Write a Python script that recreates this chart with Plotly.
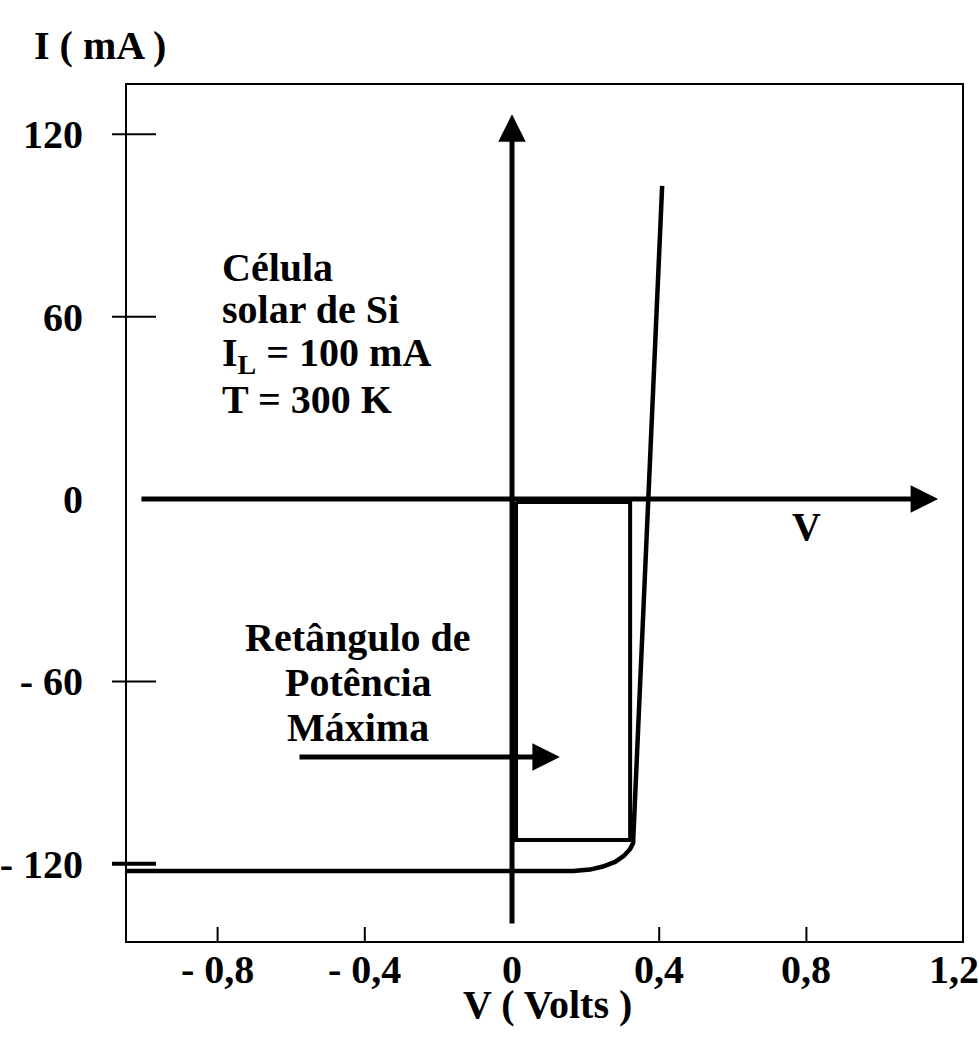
import plotly.graph_objects as go

# ---------------- data ----------------
x_tick_vals = [-0.8, -0.4, 0.0, 0.4, 0.8, 1.2]
x_tick_text = ["- 0,8", "- 0,4", "0", "0,4", "0,8", "1,2"]
x_tick_marks = [-0.8, -0.4, 0.4, 0.8]

y_tick_vals = [120, 60, 0, -60, -120]
y_tick_text = ["120", "60", "0", "- 60", "- 120"]
y_tick_marks = [120, 60, -60, -120]

# I-V characteristic of the illuminated cell (V in volts, I in mA)
V_curve = [-1.05, 0.166, 0.212, 0.247, 0.280, 0.304, 0.321, 0.329, 0.408]
I_curve = [-122.4, -122.4, -121.9, -120.9, -119.4, -117.4, -115.1, -113.2, 103.0]

# maximum power rectangle
rect_V = [0.011, 0.321, 0.321, 0.011, 0.011]
rect_I = [-1.0, -1.0, -112.2, -112.2, -1.0]

# axis arrows and pointer arrow (tail -> head)
v_axis_arrow = dict(tail=(-1.011, 0.0), head=(1.158, 0.0))
i_axis_arrow = dict(tail=(0.0, -140.1), head=(0.0, 126.6))
pointer_arrow = dict(tail=(-0.5815, -84.9), head=(0.130, -84.9))

x_range = [-1.0462, 1.2228]
y_range = [-145.4, 136.2]

FONT = "Liberation Serif"
FS = 40

fig = go.Figure()

fig.add_trace(go.Scatter(
    x=rect_V, y=rect_I, mode="lines",
    line=dict(color="black", width=4), hoverinfo="skip", showlegend=False))

fig.add_trace(go.Scatter(
    x=V_curve, y=I_curve, mode="lines",
    line=dict(color="black", width=4.5), hoverinfo="skip", showlegend=False))

# arrows
for arr in (v_axis_arrow, i_axis_arrow, pointer_arrow):
    fig.add_annotation(
        x=arr["head"][0], y=arr["head"][1], ax=arr["tail"][0], ay=arr["tail"][1],
        xref="x", yref="y", axref="x", ayref="y", text="", showarrow=True,
        arrowhead=2, arrowsize=1.1, arrowwidth=5, arrowcolor="black")

# tick marks
for yv in y_tick_marks:
    fig.add_shape(type="line", xref="paper", yref="y", x0=-15 / 835, x1=29 / 835,
                  y0=yv, y1=yv, line=dict(color="black", width=2 if yv != -120 else 4))
for xv in x_tick_marks:
    fig.add_shape(type="line", xref="x", yref="paper", x0=xv, x1=xv,
                  y0=0, y1=14 / 856, line=dict(color="black", width=2))

def txt(x, y, s, xanchor="center", yanchor="middle", xref="x", yref="y"):
    fig.add_annotation(x=x, y=y, xref=xref, yref=yref, text="<b>" + s + "</b>",
                       showarrow=False, xanchor=xanchor, yanchor=yanchor,
                       font=dict(family=FONT, size=FS, color="black"))

# x tick labels (placed on the x scale, just under the frame)
for xv, xt in zip(x_tick_vals, x_tick_text):
    txt(xv, (941 - 970) / 856, xt, yref="paper")

txt(-0.7935, 76.0, "Célula", xanchor="left")
txt(-0.7935, 62.2, "solar de Si", xanchor="left")
txt(-0.7935, 47.4, "I<sub>L</sub> = 100 mA", xanchor="left")
txt(-0.7935, 32.6, "T = 300 K", xanchor="left")
txt(-0.4185, -45.7, "Retângulo de")
txt(-0.4185, -60.5, "Potência")
txt(-0.4185, -75.0, "Máxima")
txt(0.799, -9.2, "V")
# outside the plotting area -> paper coordinates
txt((100 - 127) / 835, (941 - 45) / 856, "I ( mA )", xref="paper", yref="paper")
txt((547 - 127) / 835, (941 - 1004) / 856, "V ( Volts )", xref="paper", yref="paper")

fig.update_xaxes(
    range=x_range, tickmode="array", tickvals=x_tick_vals, ticktext=x_tick_text,
    showticklabels=False,
    ticks="", showgrid=False, zeroline=False, showline=True, mirror=True,
    linecolor="black", linewidth=2, automargin=False)
fig.update_yaxes(
    range=y_range, tickmode="array", tickvals=y_tick_vals, ticktext=y_tick_text,
    ticks="", showgrid=False, zeroline=False, showline=True, mirror=True,
    linecolor="black", linewidth=2, ticklabelstandoff=34, automargin=False,
    tickfont=dict(family=FONT, size=FS, color="black", weight="bold"))

fig.update_layout(
    width=979, height=1047,
    margin=dict(l=127, r=17, t=85, b=106, autoexpand=False),
    paper_bgcolor="white", plot_bgcolor="white",
    showlegend=False)

fig.write_html("out.html")
